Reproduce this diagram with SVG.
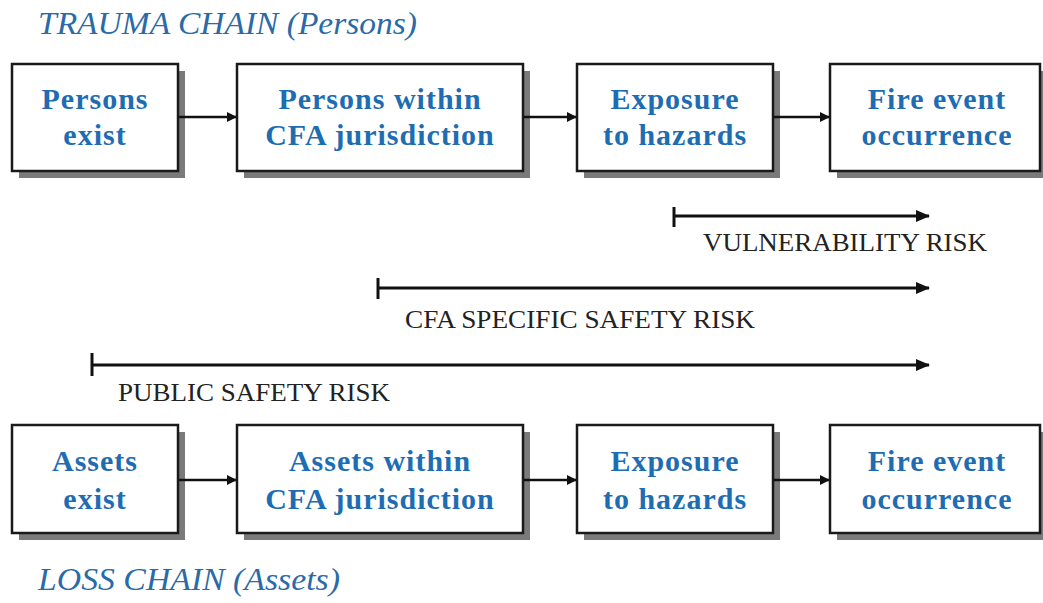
<svg xmlns="http://www.w3.org/2000/svg" width="1043" height="603" viewBox="0 0 1043 603">
<defs>
<style>
.box{fill:#fff;stroke:#1a1a1a;stroke-width:2.5}
.shadow{fill:#7a7a7a}
.lbl{font-family:"Liberation Serif","Times New Roman",serif;font-weight:bold;font-size:30px;letter-spacing:1px;fill:#1e6db3;text-anchor:middle}
.title{font-family:"Liberation Serif","Times New Roman",serif;font-style:italic;font-size:31px;fill:#2a6aa8}
.risk{font-family:"Liberation Serif","Times New Roman",serif;font-size:26px;fill:#222}
.conn{stroke:#111;stroke-width:2.5;fill:none}
.rl{stroke:#111;stroke-width:3;fill:none}
</style>
<marker id="ah" markerWidth="10" markerHeight="10" refX="9" refY="5" orient="auto" markerUnits="userSpaceOnUse">
<path d="M0,0 L10,5 L0,10 z" fill="#111"/>
</marker>
<marker id="ah2" markerWidth="14" markerHeight="12" refX="13" refY="6" orient="auto" markerUnits="userSpaceOnUse">
<path d="M0,0 L14,6 L0,12 z" fill="#111"/>
</marker>
</defs>
<rect width="1043" height="603" fill="#fff"/>
<text class="title" x="38" y="34" textLength="379" lengthAdjust="spacingAndGlyphs">TRAUMA CHAIN (Persons)</text>
<text class="title" x="38" y="590" textLength="302" lengthAdjust="spacingAndGlyphs">LOSS CHAIN (Assets)</text>

<g id="p1"><rect class="shadow" x="19" y="71" width="166" height="107"/><rect class="box" x="12" y="64" width="166" height="107"/><text class="lbl" x="95" y="109">Persons</text><text class="lbl" x="95" y="145">exist</text></g>
<g id="p2"><rect class="shadow" x="244" y="71" width="286" height="107"/><rect class="box" x="237" y="64" width="286" height="107"/><text class="lbl" x="380" y="109">Persons within</text><text class="lbl" x="380" y="145">CFA jurisdiction</text></g>
<g id="p3"><rect class="shadow" x="584" y="71" width="196" height="107"/><rect class="box" x="577" y="64" width="196" height="107"/><text class="lbl" x="675" y="109">Exposure</text><text class="lbl" x="675" y="145">to hazards</text></g>
<g id="p4"><rect class="shadow" x="837" y="71" width="210" height="107"/><rect class="box" x="830" y="64" width="210" height="107"/><text class="lbl" x="937" y="109">Fire event</text><text class="lbl" x="937" y="145">occurrence</text></g>

<g id="a1"><rect class="shadow" x="19" y="432" width="166" height="108"/><rect class="box" x="12" y="425" width="166" height="108"/><text class="lbl" x="95" y="471">Assets</text><text class="lbl" x="95" y="509">exist</text></g>
<g id="a2"><rect class="shadow" x="244" y="432" width="286" height="108"/><rect class="box" x="237" y="425" width="286" height="108"/><text class="lbl" x="380" y="471">Assets within</text><text class="lbl" x="380" y="509">CFA jurisdiction</text></g>
<g id="a3"><rect class="shadow" x="584" y="432" width="196" height="108"/><rect class="box" x="577" y="425" width="196" height="108"/><text class="lbl" x="675" y="471">Exposure</text><text class="lbl" x="675" y="509">to hazards</text></g>
<g id="a4"><rect class="shadow" x="837" y="432" width="210" height="108"/><rect class="box" x="830" y="425" width="210" height="108"/><text class="lbl" x="937" y="471">Fire event</text><text class="lbl" x="937" y="509">occurrence</text></g>

<g id="connectors">
<line class="conn" x1="179" y1="117" x2="236" y2="117" marker-end="url(#ah)"/>
<line class="conn" x1="524" y1="117" x2="576" y2="117" marker-end="url(#ah)"/>
<line class="conn" x1="774" y1="117" x2="829" y2="117" marker-end="url(#ah)"/>
<line class="conn" x1="179" y1="480" x2="236" y2="480" marker-end="url(#ah)"/>
<line class="conn" x1="524" y1="480" x2="576" y2="480" marker-end="url(#ah)"/>
<line class="conn" x1="774" y1="480" x2="829" y2="480" marker-end="url(#ah)"/>
<line class="rl" x1="674" y1="216" x2="929" y2="216" marker-end="url(#ah2)"/>
<line class="rl" x1="674" y1="207" x2="674" y2="227"/>
<line class="rl" x1="378" y1="288" x2="929" y2="288" marker-end="url(#ah2)"/>
<line class="rl" x1="378" y1="278" x2="378" y2="299"/>
<line class="rl" x1="92" y1="365" x2="929" y2="365" marker-end="url(#ah2)"/>
<line class="rl" x1="92" y1="353" x2="92" y2="376"/>
</g>
<text class="risk" x="703" y="251" textLength="284" lengthAdjust="spacingAndGlyphs">VULNERABILITY RISK</text>
<text class="risk" x="405" y="328" textLength="350" lengthAdjust="spacingAndGlyphs">CFA SPECIFIC SAFETY RISK</text>
<text class="risk" x="118" y="401" textLength="272" lengthAdjust="spacingAndGlyphs">PUBLIC SAFETY RISK</text>
</svg>
